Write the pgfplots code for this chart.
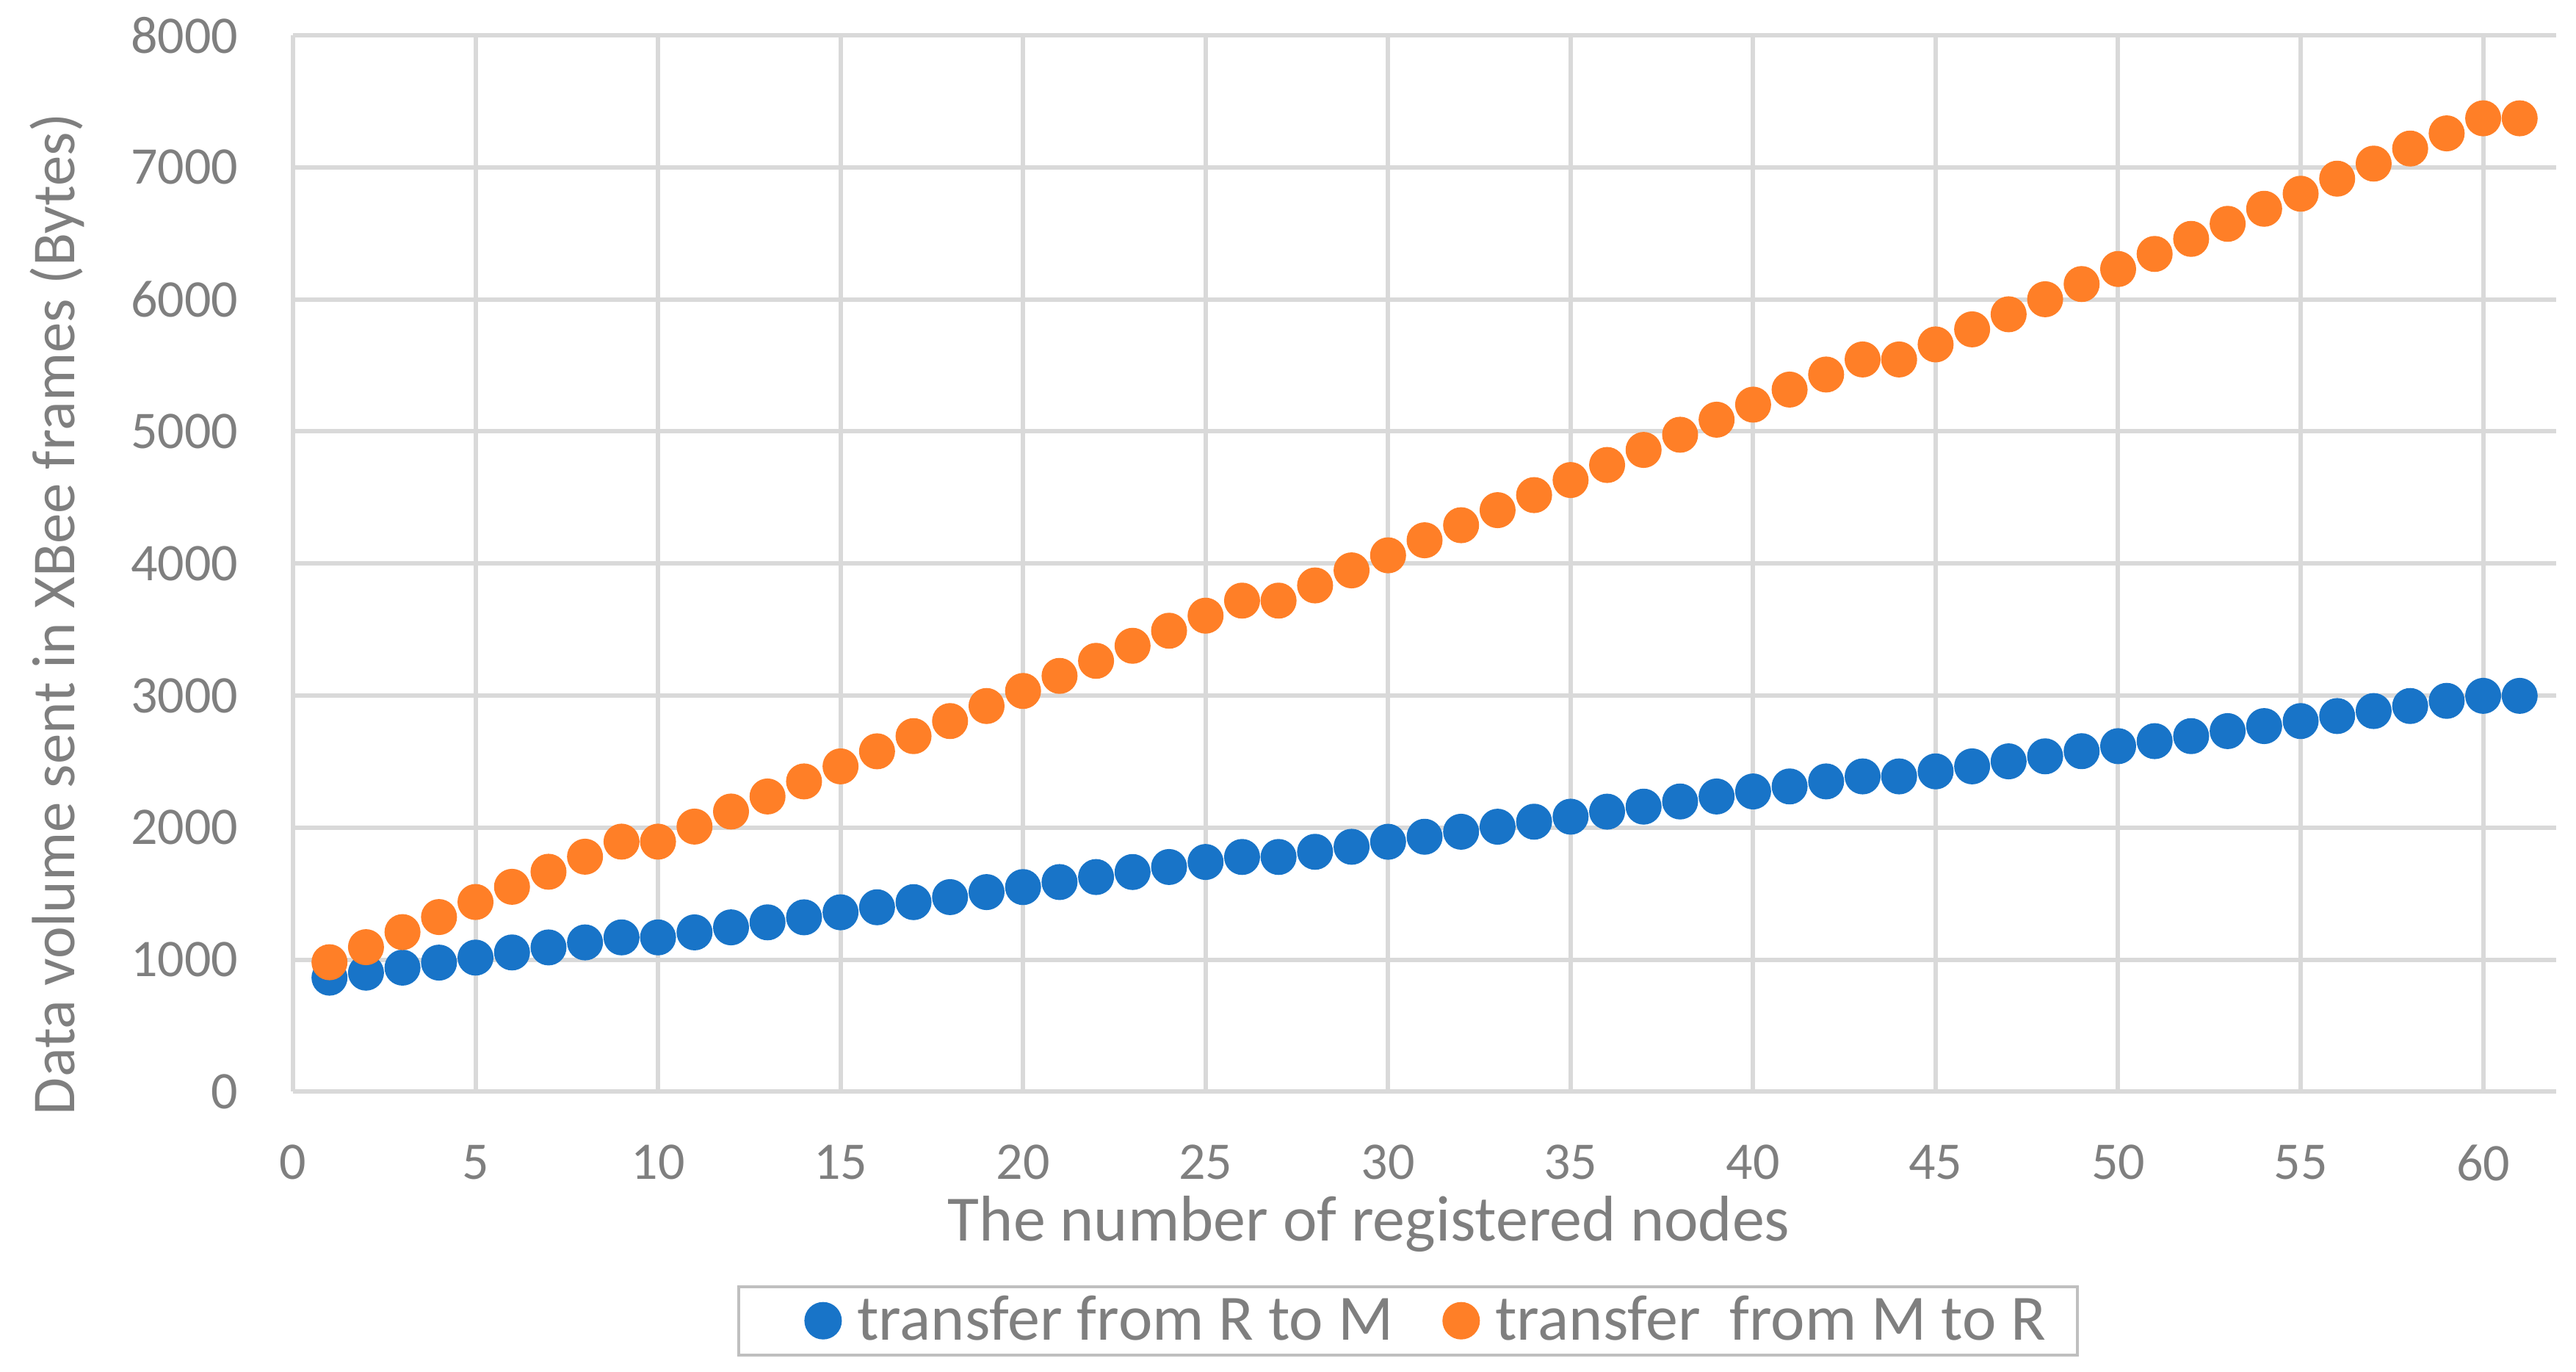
\documentclass[border=0pt]{standalone}
\usepackage{fontspec}
\setmainfont{Carlito}
\usepackage{pgfplots}
\usepackage{pgfplotstable}
\pgfplotsset{compat=1.18}
\definecolor{gridgray}{HTML}{D9D9D9}
\definecolor{txtgray}{HTML}{7F7F7F}
\definecolor{sblue}{HTML}{1874C8}
\definecolor{sorange}{HTML}{FF7F27}
\definecolor{leggray}{HTML}{BFBFBF}

\pgfplotsset{
  legimgA/.style={legend image code/.code={\path[draw=none,fill=none] (-16.4pt,0pt) -- (7.3pt,0pt); \draw[##1] plot coordinates {(0pt,0pt)};}},
  legimgB/.style={legend image code/.code={\path[draw=none,fill=none] (-4.7pt,0pt) -- (7.3pt,0pt); \draw[##1] plot coordinates {(0pt,0pt)};}},
}

\pgfplotstableread{
n  rm    mr
1  864   981
2  902   1095
3  940   1209
4  978   1323
5  1016  1437
6  1055  1552
7  1093  1666
8  1131  1780
9  1169  1894
10 1169  1894
11 1207  2008
12 1245  2122
13 1283  2236
14 1321  2350
15 1359  2464
16 1397  2578
17 1436  2693
18 1474  2807
19 1512  2921
20 1550  3035
21 1588  3149
22 1626  3263
23 1664  3377
24 1702  3491
25 1740  3605
26 1778  3719
27 1778  3719
28 1817  3834
29 1855  3948
30 1893  4062
31 1931  4176
32 1969  4290
33 2007  4404
34 2045  4518
35 2083  4632
36 2121  4746
37 2159  4860
38 2198  4975
39 2236  5089
40 2274  5203
41 2312  5317
42 2350  5431
43 2388  5545
44 2388  5545
45 2426  5659
46 2464  5773
47 2502  5887
48 2540  6001
49 2579  6116
50 2617  6230
51 2655  6344
52 2693  6458
53 2731  6572
54 2769  6686
55 2807  6800
56 2845  6914
57 2883  7028
58 2921  7142
59 2960  7257
60 2998  7371
61 2998  7371
}\datatable

\begin{document}
\begin{tikzpicture}
\path[use as bounding box] (0,0) rectangle (701.6pt,373.6pt);
\begin{axis}[
  at={(79.8pt,76.3pt)}, anchor=south west,
  scale only axis, width=616.4pt, height=287.7pt,
  xmin=0, xmax=62, ymin=0, ymax=8000,
  xtick={0,5,...,60}, ytick={0,1000,...,8000},
  grid=major, major grid style={line width=1.2pt, draw=gridgray},
  axis line style={draw=none},
  major tick length=0pt,
  tick label style={font=\fontsize{14.4}{17}\selectfont, text=txtgray, inner sep=0pt},
  /pgf/number format/assume math mode=true,
  /pgf/number format/1000 sep={},
  xticklabel style={anchor=north, yshift=-14.3pt},
  yticklabel style={anchor=east, xshift=-14.8pt},
  xlabel={The number of registered nodes},
  ylabel={Data volume sent in XBee frames (Bytes)},
  xlabel style={font=\fontsize{17.6}{21}\selectfont, text=txtgray, at={(axis description cs:0.4754,-0.141)}, anchor=base},
  ylabel style={font=\fontsize{16.6}{20}\selectfont, text=txtgray, at={(axis description cs:-0.0964,0.452)}, anchor=base},
  legend columns=2,
  legend style={at={(axis description cs:0.4927,-0.2167)}, anchor=center,
    draw=leggray, line width=0.8pt, font=\fontsize{17.6}{21}\selectfont, text=txtgray,
    inner xsep=6.6pt, inner ysep=0.5pt,
    /tikz/every even column/.append style={column sep=11.8pt}},
]
\addplot[only marks, mark=*, mark size=4.7pt, color=sblue, mark options={draw=sblue, fill=sblue}, legimgA]
  table[x=n, y=rm] {\datatable};
\addlegendentry{transfer from R to M}
\addplot[only marks, mark=*, mark size=4.7pt, color=sorange, mark options={draw=sorange, fill=sorange}, legimgB]
  table[x=n, y=mr] {\datatable};
\addlegendentry{transfer\ \ from M to R}
\end{axis}
\end{tikzpicture}
\end{document}
